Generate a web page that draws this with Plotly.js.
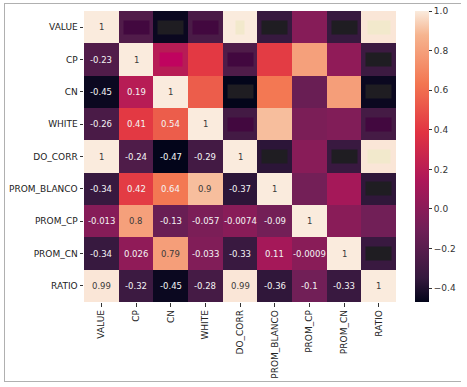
<!DOCTYPE html>
<html><head><meta charset="utf-8">
<script src="https://cdn.plot.ly/plotly-3.0.1.min.js"></script>
<style>
html,body{margin:0;padding:0;background:#fff;}
#frame{position:absolute;left:4px;top:3px;width:456px;height:377px;border-top:1px solid #b0b0b0;border-left:1px solid #b0b0b0;border-bottom:1px solid #b0b0b0;pointer-events:none;z-index:5;}
#chart{position:absolute;left:0;top:0;width:467px;height:387px;}
</style></head>
<body>
<div id="chart"></div><div id="frame"></div>
<script>
const labels = ["VALUE","CP","CN","WHITE","DO_CORR","PROM_BLANCO","PROM_CP","PROM_CN","RATIO"];
// lower triangle of the correlation matrix (row i, columns 0..i-1)
const lowerRows = [
  [],
  [-0.23],
  [-0.45, 0.19],
  [-0.26, 0.41, 0.54],
  [1, -0.24, -0.47, -0.29],
  [-0.34, 0.42, 0.64, 0.9, -0.37],
  [-0.013, 0.8, -0.13, -0.057, -0.0074, -0.09],
  [-0.34, 0.026, 0.79, -0.033, -0.33, 0.11, -0.0009],
  [0.99, -0.32, -0.45, -0.28, 0.99, -0.36, -0.1, -0.33]
];
const colorbarTicks = [-0.4, -0.2, 0.0, 0.2, 0.4, 0.6, 0.8, 1.0];

const n = labels.length;
const z = [];
for (let i = 0; i < n; i++) {
  z.push([]);
  for (let j = 0; j < n; j++) {
    if (i === j) z[i].push(1);
    else if (j < i) z[i].push(lowerRows[i][j]);
    else z[i].push(lowerRows[j][i]);
  }
}
const rocket = [
  [0, '#03051a'], [0.083, '#35193e'], [0.25, '#701f57'], [0.417, '#ad1759'],
  [0.583, '#e13342'], [0.75, '#f37651'], [0.917, '#f6b48f'], [1, '#faebdd']
];
const fmt = v => String(parseFloat(v.toPrecision(2)));
const annotations = [];
function boxColor(v) {
  if (v > 0.9) return '#f2e9cc';
  if (v < -0.3) return '#1f1d22';
  if (v < -0.2) return '#42083f';
  if (v > 0.15 && v < 0.25) return '#c0035f';
  return null;
}
for (let i = 0; i < n; i++) {
  for (let j = 0; j < n; j++) {
    const v = z[i][j];
    if (j <= i) {
      annotations.push({x: labels[j], y: labels[i], xref: 'x', yref: 'y', text: fmt(v), showarrow: false,
        font: {family: 'DejaVu Sans', size: 8.5, color: v > 0.7 ? '#3a3a3a' : '#f4f4f4'}});
    } else {
      const c = boxColor(v);
      if (c) annotations.push({x: labels[j], y: labels[i], xref: 'x', yref: 'y', text: fmt(v), showarrow: false,
        bgcolor: c, borderpad: 1.5, font: {family: 'DejaVu Sans', size: 8.5, color: c}});
    }
  }
}
const trace = {
  type: 'heatmap', x: labels, y: labels, z: z, zmin: -0.47, zmax: 1,
  colorscale: rocket, hoverinfo: 'skip',
  colorbar: {x: 1.061, xanchor: 'left', xpad: 0, ypad: 0, y: 0.5, yanchor: 'middle', len: 1, lenmode: 'fraction',
    thickness: 14, outlinewidth: 0, ticks: 'outside', ticklen: 3.5, tickcolor: '#333',
    tickvals: colorbarTicks, tickformat: '.1f', tickfont: {family: 'DejaVu Sans', size: 9, color: '#333'}}
};
const layout = {
  width: 467, height: 387, margin: {l: 84, r: 71, t: 11, b: 85, autoexpand: false},
  paper_bgcolor: '#fff', plot_bgcolor: '#fff',
  font: {family: 'DejaVu Sans', size: 9, color: '#222'},
  xaxis: {type: 'category', tickangle: -90, ticks: 'outside', ticklen: 3.5, tickcolor: '#333', automargin: false,
    showgrid: false, zeroline: false, showline: false, tickfont: {size: 9, color: '#222'}},
  yaxis: {type: 'category', autorange: 'reversed', ticks: 'outside', ticklen: 3.5, tickcolor: '#333', automargin: false,
    showgrid: false, zeroline: false, showline: false, tickfont: {size: 9, color: '#222'}},
  annotations: annotations
};
Plotly.newPlot('chart', [trace], layout, {displayModeBar: false, staticPlot: true});
</script>
</body></html>
